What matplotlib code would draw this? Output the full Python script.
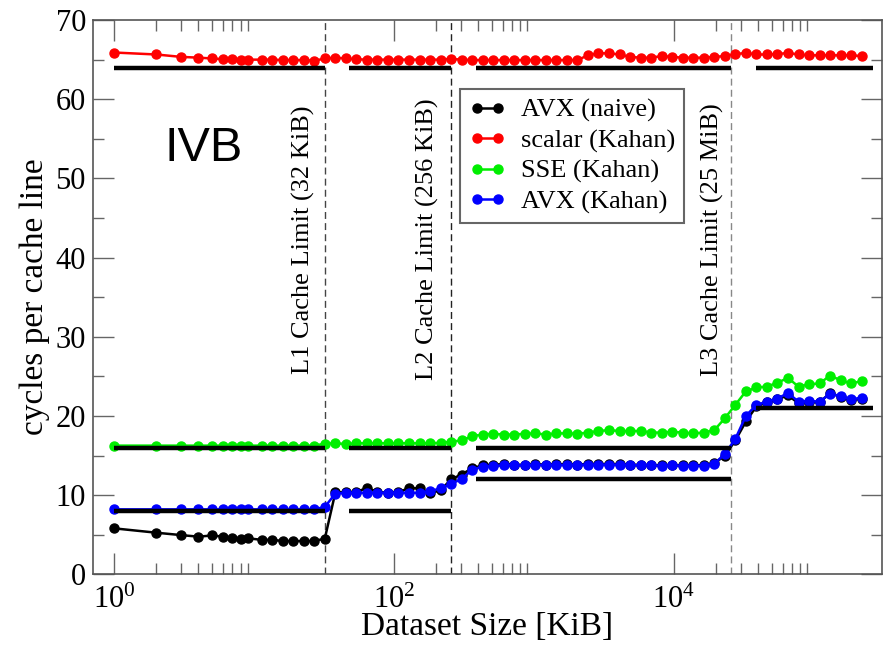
import numpy as np
import matplotlib
matplotlib.use("Agg")
import matplotlib.pyplot as plt
from matplotlib.ticker import FixedLocator, FuncFormatter

plt.rcParams['font.family'] = ['Liberation Serif', 'DejaVu Serif']
plt.rcParams['mathtext.default'] = 'regular'

# ---- data (dataset size in KiB, cycles per cache line) ----
sizes = [1, 2, 3, 4, 5, 6, 7, 8, 9,
         11.3, 13.5, 16, 19.0, 22.6, 26.9, 32,
         38.1, 45.3, 53.8, 64, 76.1, 90.5, 107.6, 128, 152.2, 181.0, 215.3, 256,
         304.4, 362.0, 430.5, 512, 608.9, 724.1, 861.1, 1024, 1218, 1448, 1722, 2048,
         2436, 2896, 3444, 4096, 4871, 5793, 6889, 8192, 9742, 11585, 13777, 16384,
         19484, 23170, 27554, 32768, 38968, 46341, 55109, 65536, 77936, 92682, 110218, 131072,
         155872, 185364, 220436]

avx_naive = [5.8, 5.25, 4.95, 4.75, 4.9, 4.75, 4.6, 4.45, 4.55,
             4.35, 4.35, 4.2, 4.2, 4.2, 4.2, 4.5,
             10.35, 10.35, 10.4, 10.9, 10.4, 10.3, 10.35, 10.9, 10.85, 10.25, 10.6, 12.0,
             12.6, 13.4, 13.75, 13.85, 13.9, 13.85, 13.8, 13.9, 13.85, 13.9, 13.9, 13.85,
             13.95, 13.9, 13.95, 13.9, 13.85, 13.8, 13.8, 13.75, 13.8, 13.75, 13.75, 13.8,
             14.0, 15.0, 16.9, 19.3, 21.2, 21.7, 22.1, 22.6, 21.6, 21.8, 21.7, 22.9,
             22.4, 22.0, 22.2]

scalar_kahan = [65.9, 65.65, 65.35, 65.25, 65.15, 65.05, 65.05, 65.0, 65.0,
                65.0, 65.0, 64.95, 64.95, 64.95, 64.85, 65.15,
                65.25, 65.15, 65.05, 65.0, 65.0, 65.0, 65.0, 65.0, 65.0, 65.0, 65.0, 65.1,
                65.0, 64.95, 64.95, 64.95, 64.95, 64.95, 64.95, 64.95, 64.95, 64.95, 64.95, 64.95,
                65.55, 65.8, 65.8, 65.65, 65.35, 65.25, 65.25, 65.45, 65.35, 65.25, 65.25, 65.25,
                65.35, 65.45, 65.7, 65.85, 65.65, 65.65, 65.7, 65.85, 65.65, 65.55, 65.55, 65.55,
                65.55, 65.55, 65.45]

sse_kahan = [16.25, 16.25, 16.25, 16.25, 16.25, 16.25, 16.25, 16.25, 16.25,
             16.25, 16.25, 16.25, 16.25, 16.25, 16.25, 16.5,
             16.55, 16.45, 16.55, 16.55, 16.55, 16.55, 16.55, 16.55, 16.55, 16.55, 16.6, 16.75,
             16.9, 17.45, 17.65, 17.75, 17.65, 17.65, 17.75, 17.8, 17.65, 17.8, 17.8, 17.75,
             17.9, 18.1, 18.2, 18.1, 18.1, 18.1, 17.9, 17.9, 18.0, 17.9, 17.8, 17.9,
             18.2, 19.7, 21.4, 23.1, 23.6, 23.7, 24.2, 24.8, 23.7, 24.0, 24.1, 25.1,
             24.5, 24.1, 24.4]

avx_kahan = [8.2, 8.2, 8.2, 8.2, 8.2, 8.2, 8.2, 8.2, 8.2,
             8.2, 8.2, 8.2, 8.2, 8.2, 8.2, 8.5,
             10.2, 10.3, 10.3, 10.3, 10.3, 10.3, 10.3, 10.3, 10.3, 10.5, 10.85, 11.4,
             12.05, 13.2, 13.6, 13.7, 13.75, 13.75, 13.75, 13.8, 13.8, 13.8, 13.8, 13.8,
             13.85, 13.85, 13.85, 13.85, 13.8, 13.75, 13.75, 13.7, 13.75, 13.7, 13.7, 13.7,
             13.95, 15.2, 17.1, 20.0, 21.4, 21.8, 22.2, 22.9, 21.8, 21.9, 21.8, 22.8,
             22.5, 22.1, 22.3]

# model predictions: (x_start, x_end, levels)
model_segments = [
    (1, 32, [64, 16, 8]),
    (48, 256, [64, 16, 8]),
    (384, 25600, [64, 16, 12]),
    (38400, 264000, [64, 21]),
]

cache_limits = [32, 256, 25600]
cache_labels = ["L1 Cache Limit (32 KiB)", "L2 Cache Limit (256 KiB)",
                "L3 Cache Limit (25 MiB)"]
cache_label_x = [22.4, 173, 18900]
cache_colors = ['#444444', '#222222', '#888888']

# ---- figure ----
fig = plt.figure(figsize=(8.85, 6.47), dpi=100)
ax = fig.add_axes([0.105, 0.1124, 0.8916, 0.8566])

series = [
    (avx_naive, 'black', "AVX (naive)"),
    (scalar_kahan, '#ff0000', "scalar (Kahan)"),
    (sse_kahan, '#00ee00', "SSE (Kahan)"),
    (avx_kahan, '#0000ff', "AVX (Kahan)"),
]
for vals, col, lab in series:
    ax.plot(sizes, vals, '-o', color=col, lw=1.8, ms=6.5, label=lab, zorder=3)

for x0, x1, levels in model_segments:
    for lv in levels:
        ax.plot([x0, x1], [lv, lv], color='black', lw=3.2,
                solid_capstyle='butt', zorder=4)

for xl, col in zip(cache_limits, cache_colors):
    ax.axvline(xl, color=col, lw=1.0, ls=(0, (5, 3)), zorder=2)
for xt, lab in zip(cache_label_x, cache_labels):
    ax.text(xt, 42.3, lab, rotation=90, ha='center', va='center', fontsize=19)

ax.text(2.3, 53.8, "IVB", fontsize=35, family=['Liberation Sans', 'DejaVu Sans'],
        ha='left', va='center')

ax.set_xscale('log')
ax.set_xlim(0.704, 3.08e5)
ax.set_ylim(0, 70)

ax.xaxis.set_major_locator(FixedLocator([1, 100, 10000]))
ax.xaxis.set_minor_locator(FixedLocator([m * d for d in (1, 100, 10000) for m in range(2, 10)]))
ax.xaxis.set_major_formatter(FuncFormatter(lambda v, p: "10$^{%d}$" % round(np.log10(v))))
ax.xaxis.set_minor_formatter(FuncFormatter(lambda v, p: ""))
ax.yaxis.set_major_locator(FixedLocator(range(0, 71, 10)))
ax.yaxis.set_minor_locator(FixedLocator(range(5, 70, 10)))

ax.tick_params(which='both', direction='in', top=True, right=True,
               color='#666666', labelsize=22)
ax.tick_params(axis='y', pad=5)
ax.tick_params(axis='x', pad=8)
ax.tick_params(which='major', length=15, width=1.0)
ax.tick_params(which='minor', length=8, width=1.0)
for s in ax.spines.values():
    s.set_color('#555555')
    s.set_linewidth(1.2)

ax.set_xlabel("Dataset Size [KiB]", fontsize=24, labelpad=-2)
ax.set_ylabel("cycles per cache line", fontsize=24, labelpad=4)

leg = ax.legend(loc='upper left', bbox_to_anchor=(0.465, 0.875), borderaxespad=0,
                fontsize=19, numpoints=2, handlelength=1.4, handletextpad=0.55,
                labelspacing=0.25, borderpad=0.35, fancybox=False, framealpha=1)
leg.get_frame().set_edgecolor('#666666')
leg.get_frame().set_linewidth(1.5)

fig.savefig("out.png", dpi=100)
